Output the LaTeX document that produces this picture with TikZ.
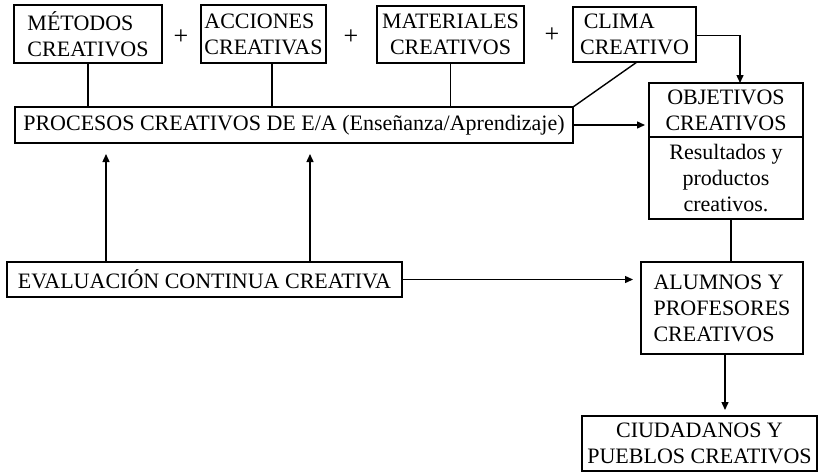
\documentclass[tikz,border=0pt]{standalone}
\usepackage{fontspec}
\setmainfont{Liberation Serif}
\usetikzlibrary{arrows.meta,positioning}

\begin{document}
\begin{tikzpicture}[x=1pt,y=-1pt,
    caja/.style={draw,line width=1.4pt,outer sep=0pt,inner sep=0pt,font=\fontsize{22}{26}\selectfont},
    flecha/.style={line width=1.4pt,-{Triangle[length=8pt,width=7pt]}},
    enlace/.style={line width=1.4pt},
    mas/.style={font=\fontsize{26}{30}\selectfont}]
  \useasboundingbox (0,0) rectangle (818,472);
  % fila de arriba
  \node[caja,minimum width=148pt,minimum height=58pt,align=left] (metodos) at (88,34) {MÉTODOS\\CREATIVOS};
  \node[mas] (mas1) at (181,37) {+};
  \node[caja,minimum width=125pt,minimum height=58pt,align=left] (acciones) at (263.5,34) {ACCIONES\\CREATIVAS};
  \node[mas] (mas2) at (351,37) {+};
  \node[caja,minimum width=147pt,minimum height=57pt,align=center] (materiales) at (450.5,34.5) {MATERIALES\\CREATIVOS};
  \node[mas] (mas3) at (552,35) {+};
  \node[caja,minimum width=123pt,minimum height=55pt,align=left] (clima) at (634.5,34.5) {\,CLIMA\\CREATIVO};
  % procesos y objetivos
  \node[caja,minimum width=558pt,minimum height=36pt] (procesos) at (294,125) {PROCESOS CREATIVOS DE E/A (Enseñanza/Aprendizaje)};
  \node[caja,minimum width=154pt,minimum height=54pt,align=center] (objetivos) at (726,110) {OBJETIVOS\\CREATIVOS};
  \node[caja,minimum width=154pt,minimum height=82pt,align=center,below=0pt of objetivos] (resultados) {Resultados y\\productos\\creativos.};
  % fila de abajo
  \node[caja,minimum width=395pt,minimum height=35pt] (evaluacion) at (204.5,279.5) {EVALUACIÓN CONTINUA CREATIVA};
  \node[caja,minimum width=162pt,minimum height=92pt,align=left] (alumnos) at (722,308) {ALUMNOS Y\\PROFESORES\\CREATIVOS};
  \node[caja,minimum width=235pt,minimum height=55pt,align=center] (ciudadanos) at (699.5,443.5) {CIUDADANOS Y\\PUEBLOS CREATIVOS};

  % conexiones
  \draw[enlace] (metodos.south) -- (metodos.south |- procesos.north);
  \draw[enlace] ([xshift=8.5pt]acciones.south) -- ([xshift=8.5pt]acciones.south |- procesos.north);
  \draw[enlace] (materiales.south) -- (materiales.south |- procesos.north);
  \draw[enlace] ([xshift=2.5pt]clima.south) -- (procesos.north east);
  \draw[flecha] ([yshift=-1pt]clima.east) -| ([xshift=14pt]objetivos.north);
  \draw[flecha,shorten >=4pt] (procesos.east) -- (procesos.east -| objetivos.west);
  \draw[enlace] ([xshift=5pt]resultados.south) -- ([xshift=5pt]resultados.south |- alumnos.north);
  \draw[flecha,shorten >=6pt] ([xshift=3pt]alumnos.south) -- ([xshift=3pt]alumnos.south |- ciudadanos.north);
  \draw[flecha,shorten >=8pt] (evaluacion.east) -- (evaluacion.east -| alumnos.west);
  \foreach \dx in {-98.5,105.5}
    \draw[flecha,shorten >=11pt] ([xshift=\dx pt]evaluacion.north) -- ([xshift=\dx pt]evaluacion.north |- procesos.south);
\end{tikzpicture}
\end{document}
